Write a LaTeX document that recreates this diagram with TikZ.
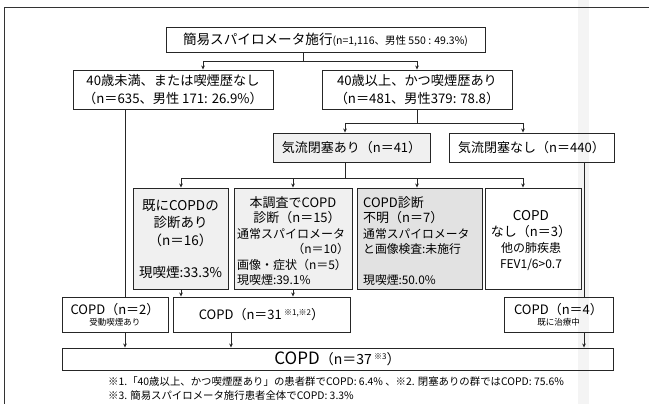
\documentclass[tikz,border=0pt]{standalone}
\usepackage{fontspec}
\setmainfont{Noto Sans CJK JP}
\usetikzlibrary{arrows.meta}
\newcommand{\myfs}[2]{\fontsize{#1}{#2}\selectfont}
\tikzset{
  box/.style={draw=black!85, line width=0.9pt, inner sep=0pt, align=center},
  lfill/.style={fill=gray!12},
  dfill/.style={fill=gray!23},
  ln/.style={draw=black!85, line width=0.8pt},
  arr/.style={ln, -{Stealth[length=4pt,width=3.6pt]}},
  txt/.style={inner sep=0pt},
}
\begin{document}
\begin{tikzpicture}[x=1pt,y=-1pt]
\useasboundingbox (0,0) rectangle (649,404);
% scan gutter and frame
\fill[gray!9] (578,0) rectangle (589,404);
\draw[black!80, line width=1pt] (4,404) -- (4,8) -- (649,8);

% level 1
\node[box, minimum width=319pt, minimum height=25pt] (top) at (325.5,39.5)
  {{\myfs{13.6}{16}簡易スパイロメータ施行}{\myfs{10.5}{12}(n=1,116、男性 550 : 49.3\%)}};
% level 2
\node[box, minimum width=200pt, minimum height=39pt, font=\myfs{13.2}{17.5}] (b2L) at (173,89.5)
  {40歳未満、または喫煙歴なし\\（n＝635、男性 171: 26.9\%）};
\node[box, minimum width=190pt, minimum height=39pt, font=\myfs{13.2}{17.5}] (b2R) at (417,89.5)
  {40歳以上、かつ喫煙歴あり\\（n＝481、男性379: 78.8）};
% level 2b
\node[box, lfill, minimum width=157pt, minimum height=29pt, font=\myfs{13}{15}] (ari) at (351.5,147.5)
  {気流閉塞あり（n＝41）};
\node[box, minimum width=165pt, minimum height=29pt, font=\myfs{13}{15}] (nashi) at (531.5,147.5)
  {気流閉塞なし（n＝440）};
% level 3 boxes
\node[box, lfill, minimum width=95pt, minimum height=101pt] (kisei) at (180.5,238.5) {};
\node[box, lfill, minimum width=118pt, minimum height=101pt] (hon) at (293,238.5) {};
\node[box, dfill, minimum width=125pt, minimum height=101pt] (fumei) at (419.5,238.5) {};
\node[box, minimum width=96pt, minimum height=101pt] (cnashi) at (533,238.5) {};
% level 3 texts
\node[txt, align=center, font=\myfs{13.5}{17.5}] (kiseiT) at (180.5,239)
  {既にCOPDの\\診断あり\\（n＝16）\\[15pt]現喫煙:33.3\%};
\node[txt, align=left, text width=112pt, font=\myfs{12}{15.5}] (honT) at (293,241)
  {\makebox[112pt][c]{\myfs{13}{15.5}本調査でCOPD}\\
   \makebox[112pt][c]{\myfs{13}{15.5}\hspace{8pt}診断（n＝15）}\\
   通常スパイロメータ\\
   \makebox[112pt][r]{（n＝10）}\\
   画像・症状（n＝5）\\
   現喫煙:39.1\%};
\node[txt, align=left, text width=115pt, font=\myfs{11.8}{15.5}, anchor=west] (fumeiT) at (363,241)
  {{\myfs{13}{15.5}COPD診断}\\{\myfs{13}{15.5}不明（n＝7）}\\通常スパイロメータ\\と画像検査:未施行\\[15.5pt]現喫煙:50.0\%};
\node[txt, align=center, font=\myfs{12}{16}] (cnashiT) at (531,241)
  {{\myfs{13.5}{16}COPD}\\{\myfs{13}{16}なし（n＝3）}\\他の肺疾患\\FEV1/6>0.7};
% level 4
\node[box, minimum width=106pt, minimum height=35pt] (n2) at (115,314.5)
  {{\myfs{13}{15}COPD（n＝2）}\\[-1pt]{\myfs{8.5}{10}受動喫煙あり}};
\node[box, minimum width=177pt, minimum height=35pt, font=\myfs{13}{15}] (n31) at (261.5,314.5)
  {COPD（n＝31\,\raisebox{4pt}{\myfs{8}{9}※1,※2}）};
\node[box, minimum width=109pt, minimum height=35pt] (n4) at (558.5,314.5)
  {{\myfs{13}{15}COPD（n＝4）}\\[-1pt]{\myfs{8.5}{10}既に治療中}};
% level 5
\node[box, minimum width=551pt, minimum height=22pt] (n37) at (337.5,359)
  {{\myfs{17}{18}COPD}{\myfs{14}{16}（n＝37\,\raisebox{5pt}{\myfs{8}{9}※3}）}};
% footnotes
\node[txt, align=left, anchor=west, font=\myfs{10.4}{14}] (notes) at (108,389)
  {※1.「40歳以上、かつ喫煙歴あり」の患者群でCOPD: 6.4\% 、※2. 閉塞ありの群ではCOPD: 75.6\%\\
   ※3. 簡易スパイロメータ施行患者全体でCOPD: 3.3\%};

% connectors
\coordinate (t1) at (303,61);
\coordinate (t1L) at (203,61);
\coordinate (t1R) at (417,61);
\draw[ln] (top.south -| t1) -- (t1);
\draw[ln] (t1L) -- (t1R);
\draw[arr] (t1L) -- (t1L |- b2L.north);
\draw[arr] (t1R) -- (t1R |- b2R.north);

\coordinate (t2) at (417,123);
\coordinate (t2L) at (345,123);
\coordinate (t2R) at (523,123);
\draw[ln] (b2R.south -| t2) -- (t2);
\draw[ln] (t2L) -- (t2R);
\draw[arr] (t2L) -- (t2L |- ari.north);
\draw[arr] (t2R) -- (t2R |- nashi.north);

\coordinate (t3) at (345,178);
\coordinate (t3a) at (181,178);
\coordinate (t3b) at (293,178);
\coordinate (t3c) at (417,178);
\coordinate (t3d) at (523,178);
\draw[ln] (ari.south -| t3) -- (t3);
\draw[ln] (t3a) -- (t3d);
\draw[arr] (t3a) -- (t3a |- kisei.north);
\draw[arr] (t3b) -- (t3b |- hon.north);
\draw[arr] (t3c) -- (t3c |- fumei.north);
\draw[arr] (t3d) -- (t3d |- cnashi.north);

\coordinate (xL) at (125,0);
\coordinate (x31) at (231,0);
\coordinate (xR) at (584,0);
\draw[ln] (b2L.south -| xL) -- (n2.north -| xL);
\draw[arr] (n2.south -| xL) -- (n37.north -| xL);
\draw[arr] (kisei.south -| t3a) -- (t3a |- n31.north);
\draw[arr] (hon.south -| t3b) -- (t3b |- n31.north);
\draw[arr] (n31.south -| x31) -- (n37.north -| x31);
\draw[ln] (nashi.south -| xR) -- (n4.north -| xR);
\draw[arr] (n4.south -| xR) -- (n37.north -| xR);
\end{tikzpicture}
\end{document}
